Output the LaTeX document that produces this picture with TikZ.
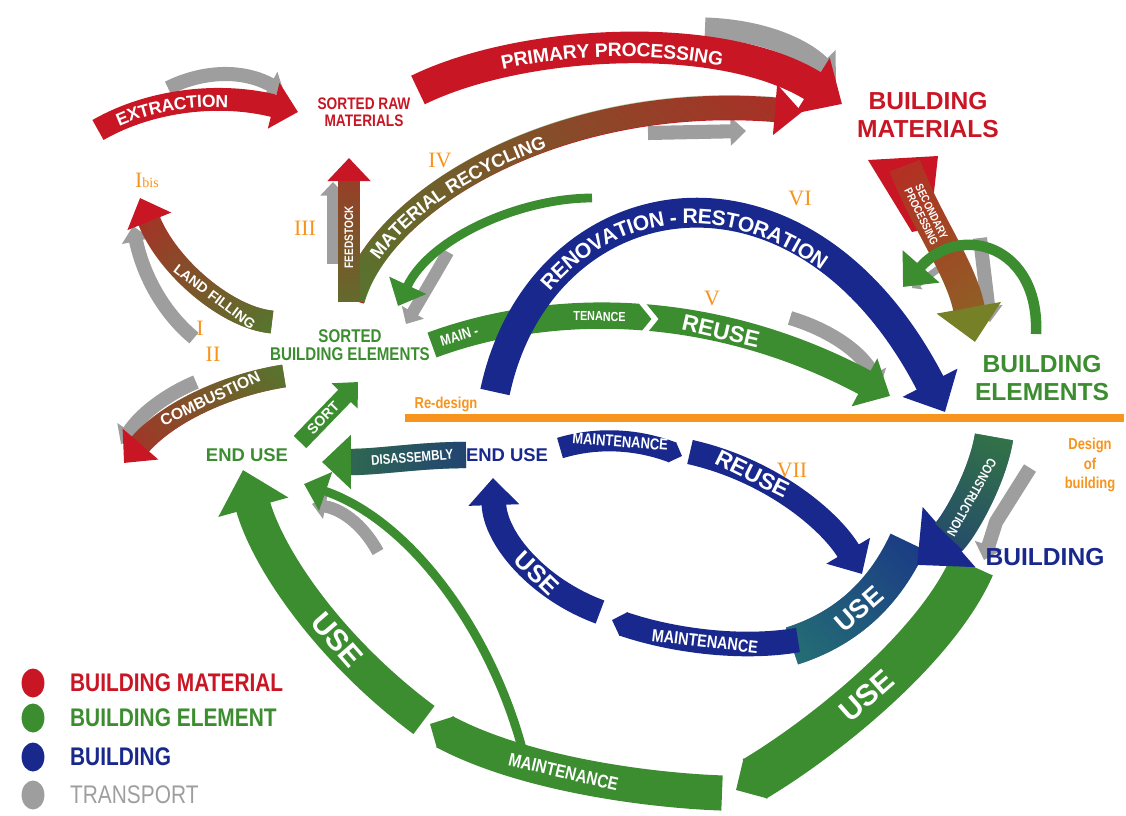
\documentclass[tikz,border=0pt]{standalone}
\usepackage{fontspec}
\setmainfont{Liberation Sans}
\newfontfamily\narrowfont{Liberation Sans}[FakeStretch=0.82]
\newfontfamily\numfont{Liberation Serif}
\usepackage{tikz}
\usetikzlibrary{arrows.meta,positioning,calc,decorations.text,fadings,shapes.geometric}

\definecolor{matred}{RGB}{200,22,36}
\definecolor{elgreen}{RGB}{60,140,48}
\definecolor{bldblue}{RGB}{24,40,140}
\definecolor{transgray}{RGB}{158,158,158}
\definecolor{designorange}{RGB}{247,148,29}
\definecolor{useteal}{RGB}{40,130,110}
\definecolor{secolive}{RGB}{118,128,38}

% fading used for the colour change along a band
\pgfdeclarehorizontalshading{fadeshade}{200bp}{color(0bp)=(pgftransparent!100); color(50bp)=(pgftransparent!100); color(150bp)=(pgftransparent!0); color(200bp)=(pgftransparent!0)}
\pgfdeclarefading{fadeto}{\pgfuseshading{fadeshade}}

\tikzset{
  band/.style={line width=#1, -{Triangle[length=0pt 1.1, width=0pt 2]}},
  chevband/.style={line width=#1, -{Triangle[length=0pt 0.5, width=0pt 1]}},
  thinband/.style={line width=#1, -{Triangle[length=0pt 2.6, width=0pt 4.5]}},
  plainband/.style={line width=#1},
  fadeover/.style n args={3}{postaction={draw, #1, arrows=-, shorten >=#3, path fading=fadeto, fading angle=#2}},
  curvlbl/.style n args={3}{decorate, decoration={text along path, raise=#1, text color=white, text align={left indent=#2}, text={#3}}},
  inlbl/.style={text=white, inner sep=0pt, sloped, font=\bfseries\fontsize{#1}{#1}\selectfont},
  narrowlbl/.style={text=white, inner sep=0pt, sloped, font=\narrowfont\bfseries\fontsize{#1}{#1}\selectfont},
  numlbl/.style={text=designorange, inner sep=0pt, font=\numfont\fontsize{12.5}{12.5}\selectfont},
  stagelbl/.style={inner sep=0pt, align=center, font=\bfseries\fontsize{14}{15.5}\selectfont},
  placelbl/.style={inner sep=0pt, align=center, font=\narrowfont\bfseries\fontsize{#1}{#1}\selectfont},
  legdot/.style={ellipse, minimum width=13pt, minimum height=16.5pt, inner sep=0pt},
  keylbl/.style={inner sep=0pt, font=\narrowfont\bfseries\fontsize{14.5}{14.5}\selectfont},
}

\begin{document}
\begin{tikzpicture}[x=0.02cm, y=-0.02cm]
    \useasboundingbox (0,0) rectangle (1126,815);
    % Transport (grey, behind the bands)
    \draw[band=8pt, transgray] (168,88) .. controls (200,72) and (240,68) .. (284,92);
    \draw[band=12pt, transgray] (705,28) .. controls (765,30) and (805,50) .. (836,82);
    \draw[band=8pt, transgray] (648,133) -- (746,131);
    \draw[band=7pt, transgray] (333,264) -- (333,182);
    \draw[band=7pt, transgray] (448,252) .. controls (432,280) and (420,300) .. (406,324);
    \draw[band=8pt, transgray] (194,338) .. controls (160,310) and (142,270) .. (133,226);
    \draw[band=8pt, transgray] (196,382) .. controls (165,395) and (140,415) .. (121,444);
    \draw[band=8pt, transgray] (790,318) .. controls (830,330) and (862,352) .. (880,388);
    \draw[band=8pt, transgray] (980,238) -- (990,322);
    \draw[band=4pt, transgray] (948,262) -- (912,288);
    \draw[band=8pt, transgray] (1030,468) -- (996,522) -- (984,560);
    \draw[band=7pt, transgray] (378,552) .. controls (365,528) and (345,510) .. (312,504);
    % Design line
    \draw[designorange, line width=4.5pt] (405,418) -- (1124,418);
    % Building material (red)
    \draw[band=13pt, matred, postaction={curvlbl={-3.6pt}{12pt}{|\bfseries\fontsize{10}{10}\selectfont|EXTRACTION}}] (98,130) .. controls (150,100) and (220,92) .. (298,112);
    \draw[band=18pt, matred, postaction={curvlbl={-4pt}{50pt}{|\bfseries\fontsize{11}{11}\selectfont|PRIMARY PROCESSING}}] (418,90) .. controls (520,40) and (720,28) .. (842,104);
    \draw[band=14pt, matred, fadeover={elgreen}{205}{15.4pt}, postaction={curvlbl={-3.8pt}{28pt}{|\bfseries\fontsize{10.5}{10.5}\selectfont|MATERIAL RECYCLING}}] (352,300) .. controls (380,200) and (560,92) .. (802,112);
    \draw[band=12pt, matred, fadeover={elgreen}{270}{13.2pt}] (349,302) -- (349,158)
        node[narrowlbl=7, pos=.45, sloped=false, rotate=90] (feedlbl) {FEEDSTOCK};
    \draw[band=13pt, matred, fadeover={elgreen}{-45}{14.3pt}] (272,322) .. controls (228,318) and (168,268) .. (140,198)
        node[inlbl=8, pos=.4] (landlbl) {LAND FILLING};
    \draw[band=13pt, matred, fadeover={elgreen}{30}{14.3pt}] (284,376) .. controls (232,384) and (170,410) .. (124,463)
        node[inlbl=9, pos=.45] (comblbl) {COMBUSTION};
    \fill[matred] (868,160) -- (938,156) -- (930,228) -- (912,232) -- cycle;
    \draw[band=18pt, secolive, fadeover={matred}{110}{19.8pt}] (905,166) .. controls (925,220) and (962,270) .. (975,342)
        node[narrowlbl=6.5, pos=.3, align=center] (seclbl) {SECONDARY\\PROCESSING};
    % Building element (green)
    \draw[thinband=6pt, elgreen] (1036,334) .. controls (1040,245) and (960,222) .. (903,287);
    \draw[thinband=5pt, elgreen] (592,198) .. controls (520,198) and (430,238) .. (398,306);
    \draw[band=10pt, elgreen] (300,442) -- (358,382)
        node[inlbl=8, pos=.4] (sortlbl) {SORT};
    \draw[band=15pt, elgreen] (432,345) .. controls (560,298) and (720,305) .. (890,396)
        node[narrowlbl=8.5, pos=.07] (mainlbl) {MAIN -}
        node[narrowlbl=7.5, pos=.4] (tenlbl) {TENANCE}
        node[inlbl=13, pos=.66] (reuselbl) {REUSE};
    \draw[white, line width=3pt] (638,298) -- (655,319) -- (638,340);
    \draw[chevband=26pt, elgreen] (972,566) .. controls (935,650) and (820,740) .. (736,790)
        node[inlbl=17, pos=.52] (guse2lbl) {USE};
    \draw[chevband=20pt, elgreen] (722,793) .. controls (640,790) and (520,772) .. (430,724)
        node[narrowlbl=10.5, pos=.55] (gmainlbl) {MAINTENANCE};
    \draw[band=20pt, elgreen] (424,720) .. controls (330,650) and (268,560) .. (243,470)
        node[inlbl=17, pos=.35] (guselbl) {USE};
    \draw[thinband=5pt, elgreen] (522,748) .. controls (490,630) and (410,520) .. (304,484);
    % Building (blue)
    \draw[band=17pt, bldblue, postaction={curvlbl={-4.2pt}{67pt}{|\bfseries\fontsize{12}{12}\selectfont|RENOVATION - RESTORATION}}] (495,392) .. controls (540,180) and (800,130) .. (945,412);
    \draw[chevband=12pt, bldblue] (560,448) .. controls (600,436) and (640,440) .. (682,456)
        node[narrowlbl=9, pos=.5] (bmainlbl) {MAINTENANCE};
    \draw[band=14pt, bldblue] (690,452) .. controls (770,470) and (830,520) .. (862,574)
        node[inlbl=13, pos=.28] (breuselbl) {REUSE};
    \draw[plainband=22pt, bldblue, fadeover={useteal}{225}{0pt}] (908,542) .. controls (882,598) and (842,630) .. (792,646)
        node[inlbl=15, pos=.5] (tuselbl) {USE};
    \draw[chevband=14pt, bldblue] (798,640) .. controls (740,650) and (670,640) .. (612,620)
        node[narrowlbl=10, pos=.5] (bmain2lbl) {MAINTENANCE};
    \draw[band=14pt, bldblue] (600,612) .. controls (540,590) and (495,540) .. (493,478)
        node[inlbl=14, pos=.4] (buselbl) {USE};
    \draw[band=15pt, elgreen, fadeover={bldblue}{0}{16.5pt}] (466,455) .. controls (420,455) and (380,462) .. (322,462)
        node[narrowlbl=8, pos=.4] (disslbl) {DISASSEMBLY};
    \draw[band=22pt, bldblue, fadeover={elgreen}{70}{24.2pt}] (994,437) .. controls (987,480) and (957,530) .. (917,565)
        node[narrowlbl=7.5, pos=.45, allow upside down] (conslbl) {CONSTRUCTION};
    % Stages
    \node[stagelbl, text=matred] (buildmat) at (928,115) {BUILDING\\MATERIALS};
    \node[stagelbl, text=elgreen] (buildel) at (1042,378) {BUILDING\\ELEMENTS};
    \node[stagelbl, text=bldblue] (building) at (1045,557) {BUILDING};
    \node[placelbl=9.5, text=matred] (rawmat) at (364,112) {SORTED RAW\\MATERIALS};
    \node[placelbl=10.5, text=elgreen] (sortedel) at (350,345) {SORTED\\BUILDING ELEMENTS};
    \node[inner sep=0pt, font=\bfseries\fontsize{10.5}{10.5}\selectfont, text=elgreen] (endusegr) at (247,455) {END USE};
    \node[inner sep=0pt, font=\bfseries\fontsize{10.5}{10.5}\selectfont, text=bldblue] (endusebl) at (507,455) {END USE};
    \node[placelbl=9, text=designorange] (redesign) at (446,404) {Re-design};
    \node[placelbl=9, text=designorange, font=\narrowfont\bfseries\fontsize{9}{11}\selectfont] (design) at (1090,465) {Design\\of\\building};
    % Stage numbers
    \node[numlbl] (nIbis) at (147,180) {I{\fontsize{8}{8}\selectfont bis}};
    \node[numlbl] (nI) at (200,328) {I};
    \node[numlbl] (nII) at (213,354) {II};
    \node[numlbl] (nIII) at (305,228) {III};
    \node[numlbl] (nIV) at (440,160) {IV};
    \node[numlbl] (nV) at (712,298) {V};
    \node[numlbl] (nVI) at (800,198) {VI};
    \node[numlbl] (nVII) at (792,470) {VII};
    % Legend
    \node[legdot, fill=matred] (kmat) at (33,683) {};
    \node[legdot, fill=elgreen] (kel) at (33,718) {};
    \node[legdot, fill=bldblue] (kbld) at (33,757) {};
    \node[legdot, fill=transgray] (ktr) at (33,795) {};
    \node[keylbl, text=matred, right=5mm of kmat] (kmattxt) {BUILDING MATERIAL};
    \node[keylbl, text=elgreen, right=5mm of kel] (keltxt) {BUILDING ELEMENT};
    \node[keylbl, text=bldblue, right=5mm of kbld] (kbldtxt) {BUILDING};
    \node[keylbl, text=transgray, font=\narrowfont\fontsize{14.5}{14.5}\selectfont, right=5mm of ktr] (ktrtxt) {TRANSPORT};
\end{tikzpicture}
\end{document}
